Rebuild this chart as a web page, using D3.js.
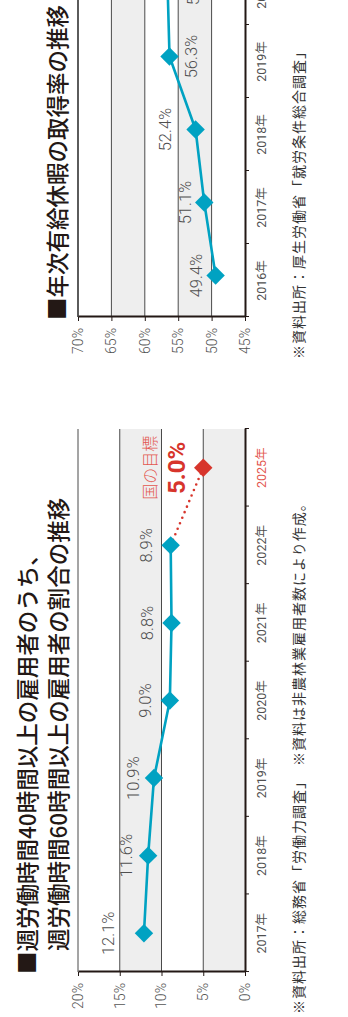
<!DOCTYPE html>
<html>
<head>
<meta charset="utf-8">
<script src="https://cdn.jsdelivr.net/npm/d3@7"></script>
<style>
  html, body { margin: 0; padding: 0; background: #fff; overflow: hidden; }
  svg { display: block; }
</style>
</head>
<body>
<svg id="chart" width="348" height="1017"></svg>
<script>
// ---- Share of employees working 60+ hours among those working 40+ hours ----
const hoursYears   = ["2017", "2018", "2019", "2020", "2021", "2022", "2025"];
const hoursActual  = [12.1, 11.6, 10.9, 9.0, 8.8, 8.9];          // 2017–2022
const hoursTarget  = 5.0;                                          // 2025 goal
const hoursTicks   = [0, 5, 10, 15, 20];
const hoursTitle   = ["■週労働時間40時間以上の雇用者のうち、", "週労働時間60時間以上の雇用者の割合の推移"];
const hoursSource  = "※資料出所：総務省「労働力調査」　※資料は非農林業雇用者数により作成。";
const targetLabel  = "国の目標";

// ---- Paid annual leave take-up rate ----
const leaveYears   = ["2016", "2017", "2018", "2019", "2020"];
const leaveRate    = [49.4, 51.1, 52.4, 56.3, 56.6];
const leaveTicks   = [45, 50, 55, 60, 65, 70];
const leaveTitle   = "■年次有給休暇の取得率の推移";
const leaveSource  = "※資料出所：厚生労働省「就労条件総合調査」";

// ---- styling ----
const TEAL = "#00a2c2", RED = "#d7352c", RED_LIGHT = "#e3574f";
const GRID = "#4a4a4a", AXIS = "#231815", SHADE = "#eeeeee", TEXT = "#505050";
const NUM_FONT = "Roboto, 'Liberation Sans', 'Noto Sans CJK JP', sans-serif";
const JP_FONT = "'Noto Sans CJK JP', 'Noto Sans CJK SC', sans-serif";

const svg = d3.select("#chart");
const diamond = d3.symbol().type(d3.symbolSquare).size(170);

// Builds one chart in its own (un-rotated) frame and turns it a quarter turn
// counter-clockwise so the category axis runs bottom-to-top on the page.
function drawChart(o) {
  const n = o.years.length;
  const W = o.step * n, H = o.height;
  const g = svg.append("g")
    .attr("transform", `translate(${o.left},${o.bottom}) rotate(-90)`);

  const x = d3.scaleBand().domain(o.years).range([0, W]);
  const y = d3.scaleLinear().domain(d3.extent(o.ticks)).range([H, 0]);
  const cx = d => x(d) + x.bandwidth() / 2 + (o.markShift || 0);

  // alternating bands between ticks
  g.append("g").selectAll("rect")
    .data(d3.pairs(o.ticks))
    .join("rect")
    .attr("x", 0).attr("width", W)
    .attr("y", d => y(d[1]))
    .attr("height", d => y(d[0]) - y(d[1]))
    .attr("fill", (d, i) => (i % 2 === o.shadeParity ? SHADE : "#fff"));

  // horizontal gridlines
  g.append("g").selectAll("line")
    .data(o.ticks.slice(1))
    .join("line")
    .attr("x1", 0).attr("x2", W)
    .attr("y1", d => y(d)).attr("y2", d => y(d))
    .attr("stroke", GRID)
    .attr("stroke-width", (d, i, a) => (i === a.length - 1 ? o.topWidth : 1));

  // category axis: baseline with ticks at band boundaries
  const edge = d3.scaleLinear().domain([0, n]).range([0, W]);
  const baseAxis = g.append("g").attr("transform", `translate(0,${H})`)
    .call(d3.axisBottom(edge).ticks(n).tickSize(4).tickSizeOuter(0).tickFormat(""));
  baseAxis.select(".domain").attr("stroke", AXIS).attr("stroke-width", 2);
  baseAxis.selectAll(".tick line").attr("stroke", AXIS).attr("stroke-width", 1);

  // category labels
  const catAxis = g.append("g").attr("transform", `translate(0,${H})`)
    .call(d3.axisBottom(x).tickSize(0).tickPadding(12).tickFormat(d => d + "年"));
  catAxis.select(".domain").remove();
  catAxis.selectAll("text")
    .attr("font-family", NUM_FONT).attr("font-size", 12.5)
    .attr("fill", d => (d === o.highlightYear ? RED_LIGHT : TEXT));

  // value axis
  const valAxis = g.append("g")
    .call(d3.axisLeft(y).tickValues(o.ticks).tickSize(4).tickSizeOuter(0)
      .tickPadding(7).tickFormat(d => d + "%"));
  valAxis.select(".domain").attr("stroke", AXIS).attr("stroke-width", 2);
  valAxis.selectAll(".tick line").attr("stroke", AXIS);
  valAxis.selectAll("text")
    .attr("font-family", NUM_FONT).attr("font-size", 14).attr("font-weight", 300)
    .attr("fill", "#555");

  // title lines above the plot
  o.title.forEach((t, i) => {
    g.append("text")
      .attr("x", o.titleIndent[i]).attr("y", o.titleY[i])
      .attr("dominant-baseline", "central")
      .attr("font-family", JP_FONT).attr("font-size", 22.5).attr("font-weight", 500)
      .attr("fill", AXIS).text(t);
  });

  // source note below the plot
  g.append("text")
    .attr("x", -42).attr("y", H + 53)
    .attr("dominant-baseline", "central")
    .attr("font-family", JP_FONT).attr("font-size", 14).attr("letter-spacing", 1)
    .attr("fill", "#333").text(o.source);

  return { g, x, y, cx };
}

// ---------- chart 1: long working hours ----------
const c1 = drawChart({
  years: hoursYears, ticks: hoursTicks, step: 543 / hoursYears.length, height: 167,
  left: 78, bottom: 972, shadeParity: 0, topWidth: 1, highlightYear: "2025",
  title: hoursTitle, titleIndent: [-2, 21], titleY: [-52, -21], source: hoursSource
});
{
  const { g, y, cx } = c1;
  const pts = hoursActual.map((v, i) => ({ year: hoursYears[i], v }));
  const goal = { year: hoursYears[hoursYears.length - 1], v: hoursTarget };
  const line = d3.line().x(d => cx(d.year)).y(d => y(d.v));

  g.append("path").datum(pts).attr("d", line)
    .attr("fill", "none").attr("stroke", TEAL).attr("stroke-width", 2.6)
    .attr("stroke-linejoin", "round");
  g.append("path").datum([pts[pts.length - 1], goal]).attr("d", line)
    .attr("fill", "none").attr("stroke", RED).attr("stroke-width", 2.6)
    .attr("stroke-linecap", "round").attr("stroke-dasharray", "0 6");

  g.append("g").selectAll("path").data(pts).join("path")
    .attr("d", diamond).attr("fill", TEAL)
    .attr("transform", d => `translate(${cx(d.year)},${y(d.v)}) rotate(45)`);
  g.append("path").attr("d", diamond).attr("fill", RED)
    .attr("transform", `translate(${cx(goal.year)},${y(goal.v)}) rotate(45)`);

  const lift = [35, 22, 20, 24, 24.5, 24.5];
  g.append("g").selectAll("text").data(pts).join("text")
    .attr("x", d => cx(d.year)).attr("y", (d, i) => y(d.v) - lift[i])
    .attr("text-anchor", "middle").attr("dominant-baseline", "central")
    .attr("font-family", NUM_FONT).attr("font-size", 16.5).attr("font-weight", 300)
    .attr("fill", TEXT).text(d => d.v.toFixed(1) + "%");

  g.append("text")
    .attr("x", cx(goal.year)).attr("y", y(goal.v) - 26)
    .attr("text-anchor", "middle").attr("dominant-baseline", "central")
    .attr("font-family", NUM_FONT).attr("font-size", 24).attr("font-weight", 700)
    .attr("fill", RED).text(goal.v.toFixed(1) + "%");
  g.append("text")
    .attr("x", cx(goal.year)).attr("y", y(goal.v) - 54)
    .attr("text-anchor", "middle").attr("dominant-baseline", "central")
    .attr("font-family", JP_FONT).attr("font-size", 16).attr("font-weight", 300)
    .attr("fill", RED_LIGHT).text(targetLabel);
}

// ---------- chart 2: paid leave take-up ----------
const c2 = drawChart({
  years: leaveYears, ticks: leaveTicks, step: 73, height: 167,
  left: 78, bottom: 317, shadeParity: 1, topWidth: 1.8, markShift: 5,
  title: [leaveTitle], titleIndent: [-3], titleY: [-22], source: leaveSource
});
{
  const { g, y, cx } = c2;
  const pts = leaveRate.map((v, i) => ({ year: leaveYears[i], v }));
  const line = d3.line().x(d => cx(d.year)).y(d => y(d.v));

  g.append("path").datum(pts).attr("d", line)
    .attr("fill", "none").attr("stroke", TEAL).attr("stroke-width", 2.6)
    .attr("stroke-linejoin", "round");
  g.append("g").selectAll("path").data(pts).join("path")
    .attr("d", diamond).attr("fill", TEAL)
    .attr("transform", d => `translate(${cx(d.year)},${y(d.v)}) rotate(45)`);

  const lift = [19.5, 19, 30, -21.5, -25.5];
  g.append("g").selectAll("text").data(pts).join("text")
    .attr("x", d => cx(d.year)).attr("y", (d, i) => y(d.v) - lift[i])
    .attr("text-anchor", "middle").attr("dominant-baseline", "central")
    .attr("font-family", NUM_FONT).attr("font-size", 16.5).attr("font-weight", 300)
    .attr("fill", TEXT).text(d => d.v.toFixed(1) + "%");
}
</script>
</body>
</html>
